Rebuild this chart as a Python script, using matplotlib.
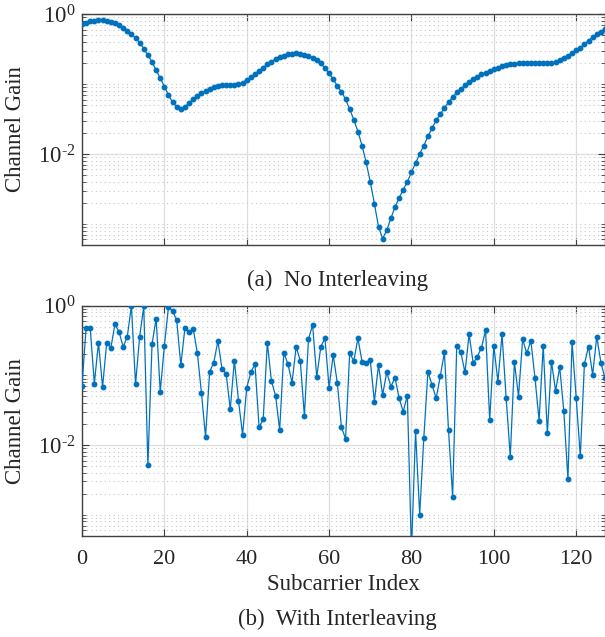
import numpy as np
import matplotlib
matplotlib.use("Agg")
import matplotlib.pyplot as plt
from matplotlib.ticker import FixedLocator, LogLocator, NullFormatter, FuncFormatter

# Per-subcarrier channel gain, natural order
gain_plain = [
    0.711, 0.752, 0.785, 0.804, 0.813, 0.813, 0.804, 0.769, 0.736, 0.689,
    0.638, 0.578, 0.518, 0.454, 0.389, 0.320, 0.257, 0.206, 0.158, 0.121,
    0.0916, 0.0697, 0.0547, 0.0474, 0.0445, 0.0474, 0.0530, 0.0604, 0.0675, 0.0736,
    0.0804, 0.0857, 0.0906, 0.0935, 0.0957, 0.0957, 0.0968, 0.0977, 0.100, 0.104,
    0.114, 0.124, 0.139, 0.155, 0.171, 0.191, 0.208, 0.228, 0.243, 0.254,
    0.265, 0.271, 0.274, 0.271, 0.262, 0.251, 0.238, 0.220, 0.197, 0.167,
    0.142, 0.117, 0.0935, 0.0776, 0.0603, 0.0437, 0.0309, 0.0209, 0.0132, 0.00759,
    0.00398, 0.00195, 0.000912, 0.000617, 0.000813, 0.00120, 0.00174, 0.00234, 0.00309, 0.00398,
    0.00550, 0.00741, 0.0100, 0.0132, 0.0178, 0.0234, 0.0302, 0.0372, 0.0457, 0.0550,
    0.0646, 0.0759, 0.0851, 0.0955, 0.107, 0.117, 0.126, 0.138, 0.145, 0.155,
    0.162, 0.170, 0.178, 0.186, 0.191, 0.195, 0.200, 0.200, 0.200, 0.200,
    0.200, 0.200, 0.200, 0.200, 0.200, 0.209, 0.219, 0.234, 0.251, 0.275,
    0.302, 0.331, 0.372, 0.417, 0.468, 0.513, 0.562, 0.617,
]

# Per-subcarrier channel gain after interleaving
gain_interleaved = [
    0.0714, 0.484, 0.473, 0.0763, 0.295, 0.0684, 0.295, 0.248, 0.541, 0.420,
    0.256, 0.360, 1.0, 0.0746, 0.360, 0.978, 0.00510, 0.279, 0.651, 0.0586,
    0.264, 0.957, 0.839, 0.616, 0.140, 0.484, 0.415, 0.468, 0.212, 0.0567,
    0.0131, 0.113, 0.153, 0.312, 0.124, 0.106, 0.0327, 0.163, 0.0435, 0.0140,
    0.0669, 0.110, 0.146, 0.0181, 0.0233, 0.295, 0.0824, 0.0514, 0.0164, 0.212,
    0.146, 0.0788, 0.256, 0.163, 0.0265, 0.333, 0.528, 0.0940, 0.259, 0.340,
    0.0669, 0.196, 0.0780, 0.0181, 0.0123, 0.207, 0.161, 0.340, 0.158, 0.153,
    0.165, 0.0421, 0.141, 0.0525, 0.111, 0.0691, 0.0930, 0.0470, 0.0303, 0.0514,
    0.0003, 0.0157, 0.00100, 0.0126, 0.113, 0.0730, 0.0470, 0.0972, 0.214, 0.0164,
    0.00182, 0.267, 0.214, 0.110, 0.388, 0.149, 0.186, 0.250, 0.443, 0.0228,
    0.264, 0.0815, 0.388, 0.0470, 0.00679, 0.156, 0.0497, 0.330, 0.207, 0.315,
    0.0910, 0.0225, 0.267, 0.0147, 0.158, 0.0599, 0.131, 0.0306, 0.00322, 0.298,
    0.0481, 0.00687, 0.146, 0.259, 0.102, 0.360, 0.153, 0.0910,
]

x_ticks = [0, 20, 40, 60, 80, 100, 120]
y_major = [1e-2, 1e0]
panel_titles = ["(a)  No Interleaving", "(b)  With Interleaving"]
x_label = "Subcarrier Index"
y_label = "Channel Gain"

plt.rcParams["font.family"] = ["Liberation Serif", "DejaVu Serif"]
plt.rcParams["mathtext.fontset"] = "custom"
plt.rcParams["mathtext.rm"] = "Liberation Serif"
plt.rcParams["mathtext.it"] = "Liberation Serif:italic"
plt.rcParams["mathtext.bf"] = "Liberation Serif:bold"

LINE_COLOR = "#0072BD"
AX_COLOR = "#404040"
TXT_COLOR = "#262626"
W, H = 605, 637

fig = plt.figure(figsize=(W / 100, H / 100), dpi=100)
left = 82 / W
width = (W - 82) / W
ax_top = fig.add_axes([left, 1 - 245 / H, width, 231 / H])
ax_bot = fig.add_axes([left, 1 - 535.7 / H, width, 230 / H])

idx = np.arange(len(gain_plain))


def decade_label(v, pos):
    e = int(round(np.log10(v)))
    # short hyphen for the exponent sign
    exp = str(e).replace("-", "\u2010")
    return r"$\mathregular{10^{%s}}$" % exp


for ax, g in ((ax_top, gain_plain), (ax_bot, gain_interleaved)):
    ax.plot(idx, g, color=LINE_COLOR, lw=0.9, marker="o", ms=3.2,
            mec=LINE_COLOR, mfc=LINE_COLOR, zorder=3)
    ax.set_yscale("log")
    ax.set_xlim(0, 127)
    ax.set_ylim(5e-4, 1.0)
    ax.xaxis.set_major_locator(FixedLocator(x_ticks))
    ax.yaxis.set_major_locator(FixedLocator(y_major))
    ax.yaxis.set_major_formatter(FuncFormatter(decade_label))
    ax.yaxis.set_minor_locator(LogLocator(base=10, subs=np.arange(1, 10), numticks=20))
    ax.yaxis.set_minor_formatter(NullFormatter())
    ax.grid(True, which="major", color="#dedede", lw=0.9, ls="-", zorder=0)
    ax.grid(True, which="minor", axis="y", color="#c8c8c8", lw=0.8,
            ls=(0, (1, 3)), zorder=0)
    ax.set_axisbelow(True)
    ax.tick_params(which="both", direction="in", top=True, right=True,
                   colors=AX_COLOR, labelcolor=TXT_COLOR)
    ax.tick_params(which="major", length=5, width=0.8)
    ax.tick_params(axis="y", which="major", labelsize=16.5, pad=5)
    ax.tick_params(axis="x", which="major", labelsize=16, pad=10)
    ax.tick_params(which="minor", length=3, width=0.6)
    for s in ax.spines.values():
        s.set_color(AX_COLOR)
        s.set_linewidth(1.0)
    ax.set_ylabel(y_label, fontsize=16.5, color=TXT_COLOR)
    ax.yaxis.set_label_coords(-0.108, 0.5)

ax_top.tick_params(axis="x", labelbottom=False)
ax_bot.set_xlabel(x_label, fontsize=16.5, color=TXT_COLOR, labelpad=4)

fig.text(337 / W, 1 - 280 / H, panel_titles[0], ha="center", va="center",
         fontsize=16.5, color=TXT_COLOR)
fig.text(337 / W, 1 - 619 / H, panel_titles[1], ha="center", va="center",
         fontsize=16.5, color=TXT_COLOR)

fig.savefig("out.png", dpi=100)
